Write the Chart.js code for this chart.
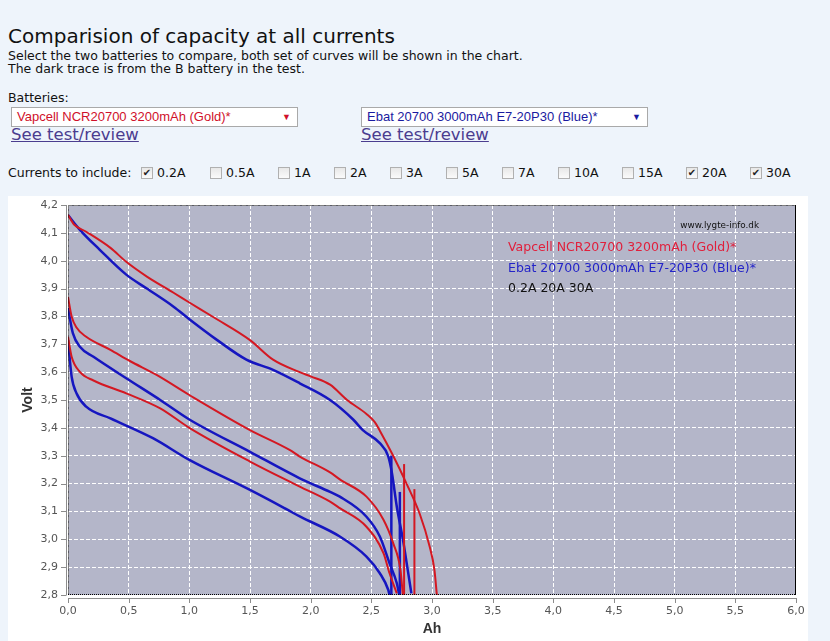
<!DOCTYPE html>
<html>
<head>
<meta charset="utf-8">
<title>Comparision of capacity at all currents</title>
<script src="https://cdn.jsdelivr.net/npm/chart.js@4.4.1/dist/chart.umd.min.js"></script>
<style>
    body {
        margin: 0;
        width: 830px;
        height: 641px;
        overflow: hidden;
        position: relative;
        background: #eef4fb;
        font-family: "DejaVu Sans", Verdana, sans-serif;
        font-size: 12.5px;
        color: #111;
    }
    .abs { position: absolute; white-space: nowrap; }
    #title { left: 8px; top: 24px; font-size: 20px; line-height: 24px; }
    #intro { left: 8px; top: 49px; line-height: 13px; }
    #batt-label { left: 8px; top: 90px; }
    .pick {
        top: 107px;
        height: 18px;
        background: #fff;
        border: 1px solid #a9a9a9;
        font-family: "Liberation Sans", Arial, sans-serif;
        font-size: 13px;
        line-height: 18px;
        padding-left: 5px;
        box-sizing: content-box;
    }
    .pick .arrow { position: absolute; right: 6px; top: 0; font-size: 9px; }
    #pick-a { left: 11px; width: 280px; color: #d0102a; }
    #pick-b { left: 361px; width: 280px; color: #1a1aa0; }
    .review { top: 125px; font-size: 16.5px; color: #4b3d8f; text-decoration: underline; }
    #currents { left: 8px; top: 165px; }
    .cb {
        top: 167px;
        width: 10px;
        height: 10px;
        border: 1px solid #b0b0b0;
        background: linear-gradient(#e8e8e8, #fafafa);
        font-size: 10px;
        line-height: 10px;
        text-align: center;
        color: #222;
    }
    .cb-label { top: 165px; }
    #panel { left: 8px; top: 196px; width: 800px; height: 445px; background: #fff; }
</style>
</head>
<body>
<div class="abs" id="title">Comparision of capacity at all currents</div>
<div class="abs" id="intro">Select the two batteries to compare, both set of curves will be shown in the chart.<br>The dark trace is from the B battery in the test.</div>
<div class="abs" id="batt-label">Batteries:</div>
<div class="abs pick" id="pick-a">Vapcell NCR20700 3200mAh (Gold)*<span class="arrow">▼</span></div>
<div class="abs pick" id="pick-b">Ebat 20700 3000mAh E7-20P30 (Blue)*<span class="arrow">▼</span></div>
<div class="abs review" style="left:11px">See test/review</div>
<div class="abs review" style="left:361px">See test/review</div>
<div class="abs" id="currents">Currents to include:</div>
<div id="boxes"></div>
<div class="abs" id="panel"><canvas id="chart" width="800" height="445"></canvas></div>

<script>
// axis ticks
const ahTickValues = [0, 0.5, 1, 1.5, 2, 2.5, 3, 3.5, 4, 4.5, 5, 5.5, 6];
const ahTickLabels = ['0,0', '0,5', '1,0', '1,5', '2,0', '2,5', '3,0', '3,5', '4,0', '4,5', '5,0', '5,5', '6,0'];
const voltTickValues = [2.8, 2.9, 3.0, 3.1, 3.2, 3.3, 3.4, 3.5, 3.6, 3.7, 3.8, 3.9, 4.0, 4.1, 4.2];
const voltTickLabels = ['2,8', '2,9', '3,0', '3,1', '3,2', '3,3', '3,4', '3,5', '3,6', '3,7', '3,8', '3,9', '4,0', '4,1', '4,2'];

// current checkboxes shown above the chart
const currentNames = ['0.2A', '0.5A', '1A', '2A', '3A', '5A', '7A', '10A', '15A', '20A', '30A'];
const currentChecked = [true, false, false, false, false, false, false, false, false, true, true];

// Vapcell NCR20700 3200mAh (Gold) - battery A
const vapcell02Ah = [0, 0.05, 0.15, 0.35, 0.48, 0.65, 0.87, 1.0, 1.2, 1.5, 1.69, 1.91, 2.0, 2.16, 2.3, 2.46, 2.53, 2.57, 2.68, 2.79, 2.9, 2.98, 3.02, 3.04];
const vapcell02V  = [4.165, 4.13, 4.104, 4.046, 3.996, 3.943, 3.885, 3.85, 3.797, 3.715, 3.645, 3.6, 3.585, 3.555, 3.5, 3.45, 3.42, 3.39, 3.3, 3.2, 3.09, 2.975, 2.89, 2.8];
const vapcell20Ah = [0, 0.03, 0.07, 0.15, 0.35, 0.51, 0.73, 1.0, 1.5, 1.83, 1.91, 2.16, 2.24, 2.46, 2.6, 2.68, 2.74, 2.76];
const vapcell20V  = [3.87, 3.8, 3.76, 3.727, 3.68, 3.64, 3.59, 3.518, 3.392, 3.32, 3.297, 3.24, 3.215, 3.153, 3.07, 2.986, 2.89, 2.8];
const vapcell30Ah = [0, 0.03, 0.1, 0.21, 0.48, 0.76, 1.0, 1.5, 1.91, 2.16, 2.24, 2.46, 2.6, 2.65, 2.71];
const vapcell30V  = [3.727, 3.655, 3.6, 3.57, 3.524, 3.47, 3.4, 3.279, 3.189, 3.135, 3.112, 3.045, 2.95, 2.878, 2.806];
// voltage recovery after the load is removed
const vapcell20RecAh = [2.855, 2.855];
const vapcell20RecV  = [2.8, 3.18];
const vapcell30RecAh = [2.77, 2.77];
const vapcell30RecV  = [2.8, 3.27];

// Ebat 20700 3000mAh E7-20P30 (Blue) - battery B
const ebat02Ah = [0, 0.1, 0.26, 0.48, 0.65, 0.87, 1.0, 1.23, 1.47, 1.69, 1.91, 2.16, 2.35, 2.43, 2.57, 2.64, 2.67, 2.71, 2.76, 2.8, 2.83];
const ebat02V  = [4.164, 4.11, 4.04, 3.95, 3.9, 3.835, 3.79, 3.715, 3.645, 3.608, 3.56, 3.5, 3.43, 3.392, 3.345, 3.297, 3.237, 3.117, 3.0, 2.89, 2.806];
const ebat20Ah = [0, 0.04, 0.1, 0.21, 0.48, 0.76, 1.0, 1.5, 1.91, 2.16, 2.24, 2.46, 2.57, 2.65, 2.71, 2.73];
const ebat20V  = [3.83, 3.74, 3.69, 3.655, 3.578, 3.5, 3.43, 3.314, 3.219, 3.17, 3.153, 3.081, 3.01, 2.914, 2.842, 2.8];
const ebat30Ah = [0, 0.03, 0.07, 0.15, 0.35, 0.7, 1.0, 1.5, 1.8, 1.91, 2.24, 2.46, 2.57, 2.64, 2.65];
const ebat30V  = [3.715, 3.584, 3.524, 3.476, 3.434, 3.363, 3.285, 3.177, 3.108, 3.082, 3.01, 2.938, 2.878, 2.818, 2.8];
const ebat20RecAh = [2.735, 2.735];
const ebat20RecV  = [2.8, 3.17];
const ebat30RecAh = [2.665, 2.665];
const ebat30RecV  = [2.8, 3.3];

const legendLines = [
    { text: 'Vapcell NCR20700 3200mAh (Gold)*', color: '#e0203c' },
    { text: 'Ebat 20700 3000mAh E7-20P30 (Blue)*', color: '#2424c8' },
    { text: '0.2A 20A 30A', color: '#111' }
];

const RED = '#d41822';
const BLUE = '#1616c0';

// checkbox row
const boxLefts = [141, 210, 278, 334, 390, 446, 502, 558, 622, 686, 750];
const boxes = document.getElementById('boxes');
currentNames.forEach((name, i) => {
    const cb = document.createElement('div');
    cb.className = 'abs cb';
    cb.style.left = boxLefts[i] + 'px';
    cb.textContent = currentChecked[i] ? '✔' : '';
    boxes.appendChild(cb);
    const lab = document.createElement('div');
    lab.className = 'abs cb-label';
    lab.style.left = (boxLefts[i] + 16) + 'px';
    lab.textContent = name;
    boxes.appendChild(lab);
});

function toPoints(xs, ys) {
    return xs.map((x, i) => ({ x: x, y: ys[i] }));
}

function series(xs, ys, color, width) {
    return {
        data: toPoints(xs, ys),
        borderColor: color,
        borderWidth: width,
        pointRadius: 0,
        cubicInterpolationMode: 'monotone',
        fill: false
    };
}

function recovery(xs, ys, color, width) {
    return {
        data: toPoints(xs, ys),
        borderColor: color,
        borderWidth: width,
        pointRadius: 0,
        tension: 0,
        fill: false
    };
}

const plotFrame = {
    id: 'plotFrame',
    beforeDraw(chart) {
        const { ctx, chartArea: a } = chart;
        ctx.save();
        ctx.fillStyle = '#b4b6c9';
        ctx.fillRect(a.left, a.top, a.right - a.left, a.bottom - a.top);
        ctx.restore();
    },
    afterDraw(chart) {
        const { ctx, chartArea: a } = chart;
        const xs = chart.scales.x, ys = chart.scales.y;
        ctx.save();
        // gray axis lines with tick marks, set off from the plot
        ctx.strokeStyle = '#8c8c8c';
        ctx.lineWidth = 1;
        ctx.beginPath();
        ctx.moveTo(a.left - 1.5, a.top);
        ctx.lineTo(a.left - 1.5, a.bottom);
        ctx.moveTo(a.left, a.bottom + 3.5);
        ctx.lineTo(a.right + 1, a.bottom + 3.5);
        ys.ticks.forEach(t => {
            const py = Math.round(ys.getPixelForValue(t.value)) + 0.5;
            ctx.moveTo(a.left - 7, py);
            ctx.lineTo(a.left - 1.5, py);
        });
        xs.ticks.forEach(t => {
            const px = Math.round(xs.getPixelForValue(t.value)) + 0.5;
            ctx.moveTo(px, a.bottom + 3.5);
            ctx.lineTo(px, a.bottom + 8);
        });
        ctx.stroke();

        // plot frame: dotted, right edge solid
        ctx.strokeStyle = '#000';
        ctx.setLineDash([1, 1]);
        ctx.beginPath();
        ctx.moveTo(a.left + 0.5, a.bottom - 0.5);
        ctx.lineTo(a.left + 0.5, a.top + 0.5);
        ctx.lineTo(a.right, a.top + 0.5);
        ctx.moveTo(a.left, a.bottom - 0.5);
        ctx.lineTo(a.right, a.bottom - 0.5);
        ctx.stroke();
        ctx.setLineDash([]);
        ctx.beginPath();
        ctx.moveTo(a.right - 0.5, a.top);
        ctx.lineTo(a.right - 0.5, a.bottom);
        ctx.stroke();

        // site name and legend text inside the plot
        ctx.textBaseline = 'middle';
        ctx.fillStyle = '#111';
        ctx.font = '8.8px "DejaVu Sans"';
        ctx.textAlign = 'right';
        ctx.fillText('www.lygte-info.dk', 751, 30);
        ctx.textAlign = 'left';
        ctx.font = '12.5px "DejaVu Sans"';
        legendLines.forEach((l, i) => {
            ctx.fillStyle = l.color;
            ctx.fillText(l.text, 500, 52 + i * 20.5);
        });
        ctx.restore();
    }
};

new Chart(document.getElementById('chart'), {
    type: 'line',
    data: {
        datasets: [
            series(vapcell02Ah, vapcell02V, RED, 2),
            series(vapcell20Ah, vapcell20V, RED, 2),
            series(vapcell30Ah, vapcell30V, RED, 2),
            recovery(vapcell20RecAh, vapcell20RecV, RED, 2),
            recovery(vapcell30RecAh, vapcell30RecV, RED, 2),
            series(ebat02Ah, ebat02V, BLUE, 2.5),
            series(ebat20Ah, ebat20V, BLUE, 2.5),
            series(ebat30Ah, ebat30V, BLUE, 2.5),
            recovery(ebat20RecAh, ebat20RecV, BLUE, 2.5),
            recovery(ebat30RecAh, ebat30RecV, BLUE, 2.5)
        ]
    },
    options: {
        responsive: false,
        animation: false,
        devicePixelRatio: 1,
        layout: { padding: { top: 9, right: 12, left: 0, bottom: 0 } },
        plugins: { legend: { display: false }, tooltip: { enabled: false } },
        scales: {
            x: {
                type: 'linear',
                min: 0,
                max: 6,
                afterBuildTicks: s => { s.ticks = ahTickValues.map(v => ({ value: v })); },
                afterFit: s => { s.height = 46; },
                ticks: {
                    callback: (v, i) => ahTickLabels[i],
                    color: '#555',
                    font: { family: 'DejaVu Sans', size: 11 },
                    padding: 2,
                    maxRotation: 0
                },
                grid: { color: '#ffffff', drawTicks: true, tickLength: 8, tickColor: 'rgba(0,0,0,0)' },
                border: { display: false, dash: [4, 2] },
                title: {
                    display: true,
                    text: 'Ah',
                    color: '#333',
                    font: { family: 'Liberation Sans', size: 14, weight: 'bold' },
                    padding: { top: 4, bottom: 3 }
                }
            },
            y: {
                min: 2.8,
                max: 4.2,
                afterBuildTicks: s => { s.ticks = voltTickValues.map(v => ({ value: v })); },
                afterFit: s => { s.width = 60; },
                ticks: {
                    callback: (v, i) => voltTickLabels[i],
                    color: '#555',
                    font: { family: 'DejaVu Sans', size: 11 },
                    padding: 2
                },
                grid: { color: '#ffffff', drawTicks: true, tickLength: 8, tickColor: 'rgba(0,0,0,0)' },
                border: { display: false, dash: [4, 2] },
                title: {
                    display: true,
                    text: 'Volt',
                    color: '#333',
                    font: { family: 'Liberation Sans', size: 14, weight: 'bold' },
                    padding: { top: 12, bottom: 4 }
                }
            }
        }
    },
    plugins: [plotFrame]
});
</script>
</body>
</html>
